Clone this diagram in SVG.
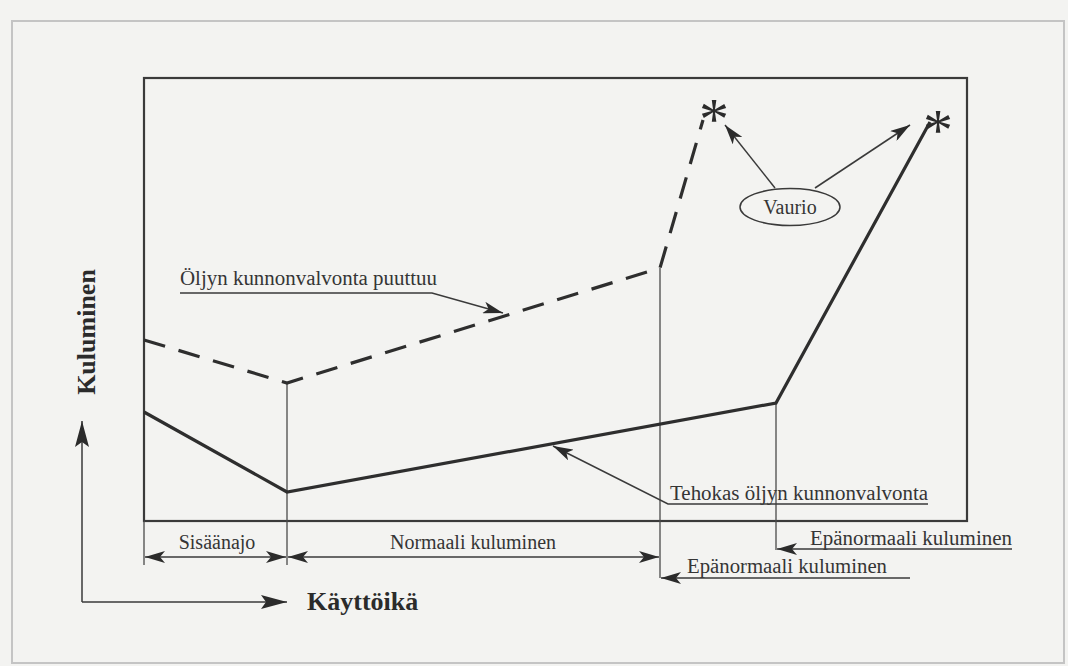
<svg xmlns="http://www.w3.org/2000/svg" width="1068" height="666" viewBox="0 0 1068 666">
  <defs>
    <marker id="head" viewBox="0 0 20 12" refX="20" refY="6" markerWidth="20" markerHeight="12" markerUnits="userSpaceOnUse" orient="auto-start-reverse">
      <path d="M0,0 L20,6 L0,12 L5,6 Z" fill="#2b2b2b"/>
    </marker>
    <marker id="headBig" viewBox="0 0 26 14" refX="26" refY="7" markerWidth="26" markerHeight="14" markerUnits="userSpaceOnUse" orient="auto-start-reverse">
      <path d="M0,0 L26,7 L0,14 L5,7 Z" fill="#2b2b2b"/>
    </marker>
    <style>
      .frame { fill: none; stroke: #c4c4c4; stroke-width: 2; }
      .box { fill: none; stroke: #3a3a3a; stroke-width: 2.2; }
      .thin { fill: none; stroke: #4a4a4a; stroke-width: 1.3; }
      .curve { fill: none; stroke: #2e2e2e; stroke-width: 3.2; stroke-linejoin: miter; }
      .dash { fill: none; stroke: #2e2e2e; stroke-width: 3.2; stroke-dasharray: 22 14; }
      .lead { fill: none; stroke: #3a3a3a; stroke-width: 1.5; }
      .lbl { font-family: "Liberation Serif", "Times New Roman", serif; font-size: 20px; fill: #353535; }
      .axis { font-family: "Liberation Serif", "Times New Roman", serif; font-size: 26px; font-weight: bold; fill: #2b2b2b; }
      .star { font-family: "Liberation Serif", "Times New Roman", serif; font-size: 60px; fill: #2b2b2b; }
    </style>
  </defs>

  <!-- page -->
  <rect x="0" y="0" width="1068" height="666" fill="#f3f3f1"/>
  <rect class="frame" x="12" y="21" width="1052" height="642" fill="#f7f7f5"/>

  <!-- plot box -->
  <g id="plot-box">
    <rect class="box" x="144" y="78" width="823" height="443"/>
  </g>

  <!-- phase boundaries -->
  <g id="phase-lines">
    <line class="thin" x1="144" y1="521" x2="144" y2="565"/>
    <line class="thin" x1="287" y1="383" x2="287" y2="565"/>
    <line class="thin" x1="660" y1="268" x2="660" y2="578"/>
    <line class="thin" x1="776" y1="403" x2="776" y2="550"/>
  </g>

  <!-- wear curves -->
  <g id="curve-monitored">
    <polyline class="curve" points="144,412 287,492 776,403 930,122"/>
  </g>
  <g id="curve-unmonitored">
    <polyline class="dash" points="144,340 287,383 660,268 703,120"/>
  </g>

  <!-- failure marks -->
  <g id="failure-left"><text class="star" x="699" y="139">*</text></g>
  <g id="failure-right"><text class="star" x="923" y="150">*</text></g>

  <!-- Vaurio label -->
  <g id="vaurio">
    <ellipse cx="790" cy="207" rx="50" ry="18.5" fill="none" stroke="#3a3a3a" stroke-width="1.5"/>
    <text class="lbl" x="790" y="214" text-anchor="middle">Vaurio</text>
  </g>

  <!-- labels -->
  <g id="label-unmonitored">
    <text class="lbl" x="180" y="285" textLength="257" lengthAdjust="spacingAndGlyphs">Öljyn kunnonvalvonta puuttuu</text>
  </g>
  <g id="label-monitored">
    <text class="lbl" x="670" y="500" textLength="258" lengthAdjust="spacingAndGlyphs">Tehokas öljyn kunnonvalvonta</text>
  </g>
  <g id="label-runin">
    <text class="lbl" x="217" y="549" text-anchor="middle">Sisäänajo</text>
  </g>
  <g id="label-normal">
    <text class="lbl" x="473" y="549" text-anchor="middle">Normaali kuluminen</text>
  </g>
  <g id="label-abnormal-1">
    <text class="lbl" x="810" y="545" textLength="202" lengthAdjust="spacingAndGlyphs">Epänormaali kuluminen</text>
  </g>
  <g id="label-abnormal-2">
    <text class="lbl" x="687" y="573" textLength="200" lengthAdjust="spacingAndGlyphs">Epänormaali kuluminen</text>
  </g>

  <!-- axes -->
  <g id="axis-y">
    <text class="axis" transform="translate(95,332) rotate(-90)" text-anchor="middle">Kuluminen</text>
  </g>
  <g id="axis-x">
    <text class="axis" x="307" y="610">Käyttöikä</text>
  </g>

  <!-- connectors -->
  <g id="connectors">
    <!-- axis arrows -->
    <polyline class="lead" points="82,602 82,421" marker-end="url(#headBig)"/>
    <polyline class="lead" points="82,602 287,602" marker-end="url(#headBig)"/>
    <!-- phase span arrows -->
    <line class="lead" x1="145" y1="557" x2="286" y2="557" marker-start="url(#head)" marker-end="url(#head)"/>
    <line class="lead" x1="288" y1="557" x2="659" y2="557" marker-start="url(#head)" marker-end="url(#head)"/>
    <polyline class="lead" points="1012,549 777,549" marker-end="url(#head)"/>
    <polyline class="lead" points="910,578 661,578" marker-end="url(#head)"/>
    <!-- label leaders -->
    <polyline class="lead" points="180,293 432,293 503,313" marker-end="url(#head)"/>
    <polyline class="lead" points="928,504 668,504 553,446" marker-end="url(#head)"/>
    <!-- failure leaders -->
    <line class="lead" x1="775" y1="188" x2="725" y2="125" marker-end="url(#head)"/>
    <line class="lead" x1="815" y1="188" x2="910" y2="125" marker-end="url(#head)"/>
  </g>
</svg>
